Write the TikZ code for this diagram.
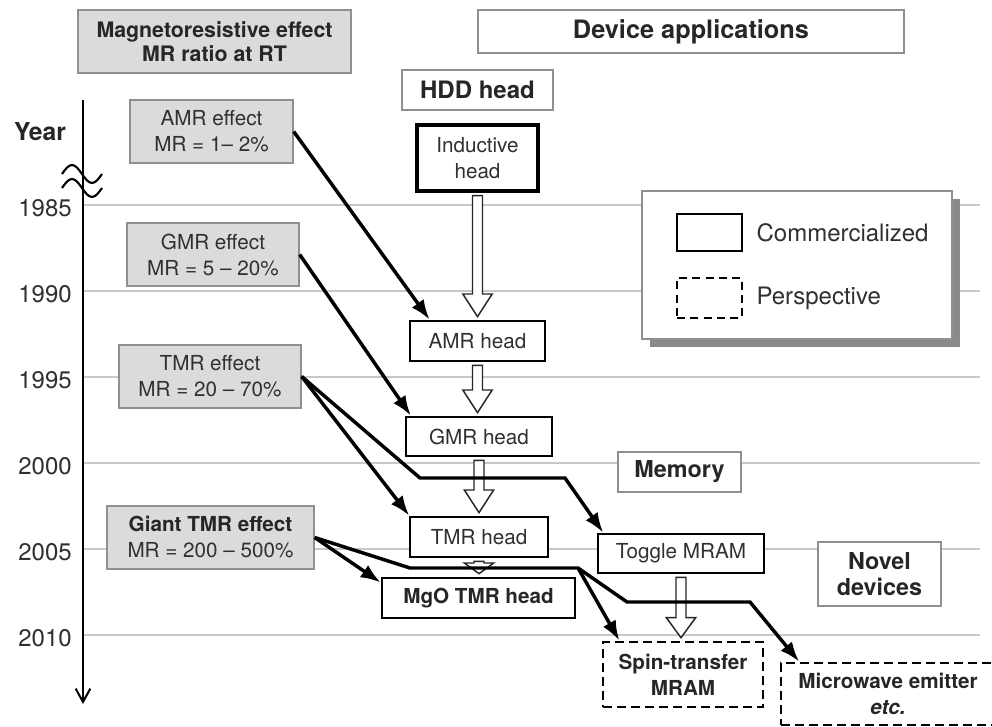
\documentclass[tikz,border=0pt]{standalone}
\usepackage{fontspec}
\setmainfont{TeX Gyre Heros}
\usetikzlibrary{positioning,arrows.meta,calc,shadows}

\definecolor{boxgray}{HTML}{DADBDC}
\definecolor{linegray}{HTML}{C8C8C8}
\definecolor{framegray}{HTML}{909090}
\definecolor{inkgray}{HTML}{303030}
\definecolor{shadowgray}{HTML}{8A8A8A}

\newcommand{\mrbody}{\fontsize{15.5}{19.5}\selectfont}
\newcommand{\mrgroup}{\bfseries\fontsize{17.5}{19.5}\selectfont}
\newcommand{\mrlegend}{\fontsize{18}{20}\selectfont}

\tikzset{
  gridline/.style={draw=linegray, line width=1pt},
  timeaxis/.style={line width=1.5pt, -{Straight Barb[length=10pt,width=11pt]}},
  brk/.style={line width=1.6pt},
  yearlabel/.style={anchor=east, inner sep=0pt, text=inkgray, font=\fontsize{18}{20}\selectfont},
  effect/.style={draw=framegray, fill=boxgray, line width=1pt, inner sep=0pt,
    align=center, text=inkgray, font=\mrbody},
  group/.style={draw=framegray, fill=white, line width=1pt, inner sep=0pt,
    align=center, text=black!85, font=\mrgroup},
  headbox/.style={draw=black, fill=white, line width=2pt, inner sep=0pt,
    align=center, text=inkgray, font=\mrbody},
  perspect/.style={headbox, dash pattern=on 6.5pt off 4pt, text=black!85, font=\bfseries\mrbody},
  link/.style={line width=2.6pt, -{Latex[length=15pt,width=11pt]}},
  hollow/.style={draw=black!85, fill=white, line width=1.1pt}
}

% hollow block arrow between two stacked boxes
\newcommand{\blockarrow}[3][17pt]{%
  \draw[hollow] let \p1=($(#2.south)+(0,3)$), \p2=($(#3.north)+(0,-3)$) in
    (\x1-3.75pt,\y1) -- (\x1+3.75pt,\y1) -- (\x1+3.75pt,\y2+#1) -- (\x1+11pt,\y2+#1)
    -- (\x1,\y2) -- (\x1-11pt,\y2+#1) -- (\x1-3.75pt,\y2+#1) -- cycle;}

\begin{document}
\begin{tikzpicture}[x=0.75pt,y=-0.75pt]
  \useasboundingbox (0,0) rectangle (992,727);

  % time axis
  \foreach \yr/\yy in {1985/205,1990/291,1995/377,2000/463,2005/549,2010/635} {
    \draw[gridline] (83,\yy) -- (980,\yy);
    \node[yearlabel] (y\yr) at (72,\yy+3) {\yr};
  }
  \coordinate (axtop) at (83,100);
  \coordinate (axbot) at (83,704);
  \draw[timeaxis] (axtop) -- (axbot);
  \node[inner sep=0pt, text=black!85, font=\bfseries\fontsize{18.5}{20}\selectfont] (year) at (40,132) {Year};
  \draw[brk] (62,174) sin (72,165) cos (82,174) sin (92,183) cos (102,174);
  \draw[brk] (62,188) sin (72,179) cos (82,188) sin (92,197) cos (102,188);

  % headers
  \node[effect, minimum width=204.75pt, minimum height=47.25pt, text=black!85,
    font=\bfseries\fontsize{16}{18}\selectfont] (mrtitle) at (214.5,41.5) {Magnetoresistive effect\\MR ratio at RT};
  \node[group, minimum width=319.5pt, minimum height=32.25pt,
    font=\bfseries\fontsize{19}{21}\selectfont] (devapp) at (691,31.5) {Device applications};
  \node[group, minimum width=113.25pt, minimum height=30pt,
    font=\bfseries\fontsize{18}{20}\selectfont] (hdd) at (477.5,90) {HDD head};
  \node[group, minimum width=92.25pt, minimum height=30pt] (memory) at (679.5,472) {Memory};
  \node[group, minimum width=92.25pt, minimum height=48pt] (novel) at (879.5,574) {Novel\\devices};

  % effects
  \node[effect, minimum width=122.25pt, minimum height=47.25pt] (amreff) at (211.5,131.5) {AMR effect\\MR = 1-- 2\%};
  \node[effect, minimum width=129pt, minimum height=47.25pt] (gmreff) at (213,254.5) {GMR effect\\MR = 5 -- 20\%};
  \node[effect, minimum width=136.5pt, minimum height=47.25pt] (tmreff) at (210,376.5) {TMR effect\\MR = 20 -- 70\%};
  \node[effect, minimum width=155.25pt, minimum height=47.25pt] (gianteff) at (210.5,537.5) {\textbf{\color{black!85}Giant TMR effect}\\MR = 200 -- 500\%};

  % devices
  \node[headbox, line width=2.4pt, minimum width=90.75pt, minimum height=49.5pt] (inductive) at (477.5,158) {Inductive\\head};
  \node[headbox, minimum width=101.25pt, minimum height=30pt] (amrhead) at (477.5,341) {AMR head};
  \node[headbox, minimum width=109.5pt, minimum height=29.25pt] (gmrhead) at (479,436.5) {GMR head};
  \node[headbox, minimum width=103.5pt, minimum height=30pt] (tmrhead) at (479,537) {TMR head};
  \node[headbox, minimum width=144.75pt, minimum height=30pt, text=black!85, font=\bfseries\mrbody] (mgohead) at (478.5,598) {MgO TMR head};
  \node[headbox, minimum width=124.5pt, minimum height=29.25pt] (toggle) at (681,553.5) {Toggle MRAM};
  \node[perspect, minimum width=120pt, minimum height=48.75pt] (spin) at (683,674.5) {Spin-transfer\\MRAM};
  \node[perspect, minimum width=160.5pt, minimum height=46.5pt] (micro) at (888,694) {Microwave emitter\\\textit{etc.}};

  % legend
  \node[draw=framegray, fill=white, line width=1pt, minimum width=232.5pt, minimum height=111pt,
    drop shadow={shadow xshift=6pt, shadow yshift=-6pt, fill=shadowgray, opacity=1}] (legend) at (797,265) {};
  \node[headbox, minimum width=48.75pt, minimum height=27.75pt] (legsolid) at (709.5,232.5) {};
  \node[headbox, dash pattern=on 6pt off 4pt, minimum width=48.75pt, minimum height=30pt] (legdash) at (709.5,298) {};
  \node[inner sep=0pt, text=inkgray, font=\mrlegend, right=9.75pt of legsolid] (legsolidtxt) {Commercialized};
  \node[inner sep=0pt, text=inkgray, font=\mrlegend, right=9.75pt of legdash] (legdashtxt) {Perspective};

  % device lineage
  \blockarrow{inductive}{amrhead}
  \blockarrow{amrhead}{gmrhead}
  \blockarrow{gmrhead}{tmrhead}
  \blockarrow[8pt]{tmrhead}{mgohead}
  \blockarrow[15pt]{toggle}{spin}

  % effect to device links
  \coordinate (bend1) at (420,478);
  \coordinate (bend2) at (565,478);
  \coordinate (bend3) at (410,568);
  \coordinate (bend4) at (578,568);
  \coordinate (bend5) at (627,602);
  \coordinate (bend6) at (750,602);

  \draw[link] (amreff.east) -- (amrhead.156);
  \draw[link] (gmreff.east) -- (gmrhead.163);
  \draw[link] (tmreff.east) -- (tmrhead.163);
  \draw[link] (tmreff.east) -- (bend1) -- (bend2) -- (toggle.165);
  \draw[link] (gianteff.east) -- (mgohead.171);
  \draw[link] (gianteff.east) -- (bend3) -- (bend4) -- (spin.152);
  \draw[link] (bend4) -- (bend5) -- (bend6) -- (micro.160);
\end{tikzpicture}
\end{document}
